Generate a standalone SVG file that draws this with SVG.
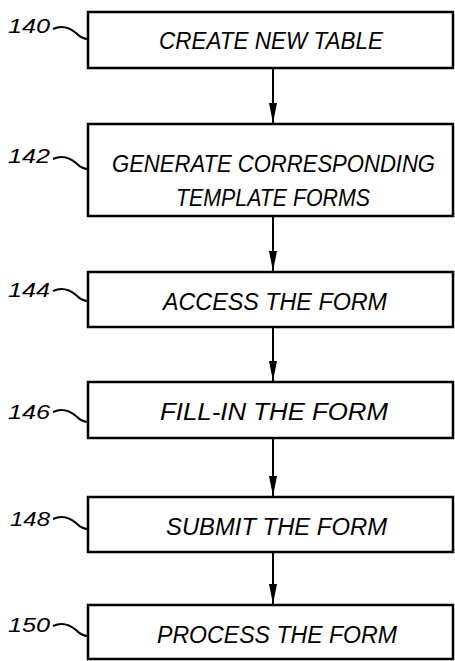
<svg xmlns="http://www.w3.org/2000/svg" width="455" height="661" viewBox="0 0 455 661">
<style>
.box{fill:#fff;stroke:#000;stroke-width:2.5}
.t{font-family:"Liberation Sans",Arial,sans-serif;font-style:italic;font-size:23px;fill:#000}
.lbl{font-family:"Liberation Sans",Arial,sans-serif;font-style:italic;font-size:20px;fill:#000}
.lead{fill:none;stroke:#000;stroke-width:2}
.conn{stroke:#000;stroke-width:2;fill:none}
</style>
<defs>
<marker id="ah" markerWidth="20" markerHeight="8" refX="20" refY="4" orient="auto" markerUnits="userSpaceOnUse" viewBox="0 0 20 8">
<path d="M0,0 L20,4 L0,8 Z" fill="#000"/>
</marker>
</defs>
<rect width="455" height="661" fill="#fff"/>
<g id="connectors">
<line class="conn" x1="273" y1="68" x2="273" y2="123" marker-end="url(#ah)"/>
<line class="conn" x1="273" y1="216" x2="273" y2="271" marker-end="url(#ah)"/>
<line class="conn" x1="273" y1="327" x2="273" y2="381" marker-end="url(#ah)"/>
<line class="conn" x1="273" y1="438" x2="273" y2="496" marker-end="url(#ah)"/>
<line class="conn" x1="273" y1="552" x2="273" y2="604" marker-end="url(#ah)"/>
</g>
<g id="n140">
<rect class="box" x="88" y="12" width="365" height="56"/>
<text class="t" x="159" y="49" textLength="224" lengthAdjust="spacingAndGlyphs">CREATE NEW TABLE</text>
<text class="lbl" x="8" y="33" textLength="42" lengthAdjust="spacingAndGlyphs">140</text>
<path class="lead" d="M53,29 C62,25 70,28 76,33 C80,37 84,39 88,39"/>
</g>
<g id="n142">
<rect class="box" x="88" y="124" width="365" height="92"/>
<text class="t" x="112" y="172" textLength="323" lengthAdjust="spacingAndGlyphs">GENERATE CORRESPONDING</text>
<text class="t" x="176" y="206" textLength="194" lengthAdjust="spacingAndGlyphs">TEMPLATE FORMS</text>
<text class="lbl" x="8" y="163" textLength="42" lengthAdjust="spacingAndGlyphs">142</text>
<path class="lead" d="M53,159 C62,155 70,158 76,163 C80,167 84,169 88,169"/>
</g>
<g id="n144">
<rect class="box" x="88" y="272" width="365" height="55"/>
<text class="t" x="163" y="310" textLength="224" lengthAdjust="spacingAndGlyphs">ACCESS THE FORM</text>
<text class="lbl" x="8" y="297" textLength="42" lengthAdjust="spacingAndGlyphs">144</text>
<path class="lead" d="M53,291 C62,287 70,290 76,295 C80,299 84,301 88,301"/>
</g>
<g id="n146">
<rect class="box" x="88" y="382" width="365" height="56"/>
<text class="t" x="160" y="420" textLength="228" lengthAdjust="spacingAndGlyphs">FILL-IN THE FORM</text>
<text class="lbl" x="8" y="419" textLength="42" lengthAdjust="spacingAndGlyphs">146</text>
<path class="lead" d="M53,412 C62,408 70,411 76,416 C80,420 84,422 88,422"/>
</g>
<g id="n148">
<rect class="box" x="88" y="497" width="365" height="55"/>
<text class="t" x="166" y="535" textLength="221" lengthAdjust="spacingAndGlyphs">SUBMIT THE FORM</text>
<text class="lbl" x="10" y="526" textLength="40" lengthAdjust="spacingAndGlyphs">148</text>
<path class="lead" d="M53,519 C62,515 70,518 76,523 C80,527 84,529 88,529"/>
</g>
<g id="n150">
<rect class="box" x="88" y="605" width="365" height="54"/>
<text class="t" x="157" y="643" textLength="240" lengthAdjust="spacingAndGlyphs">PROCESS THE FORM</text>
<text class="lbl" x="8" y="632" textLength="42" lengthAdjust="spacingAndGlyphs">150</text>
<path class="lead" d="M53,626 C62,622 70,625 76,630 C80,634 84,636 88,636"/>
</g>
</svg>
